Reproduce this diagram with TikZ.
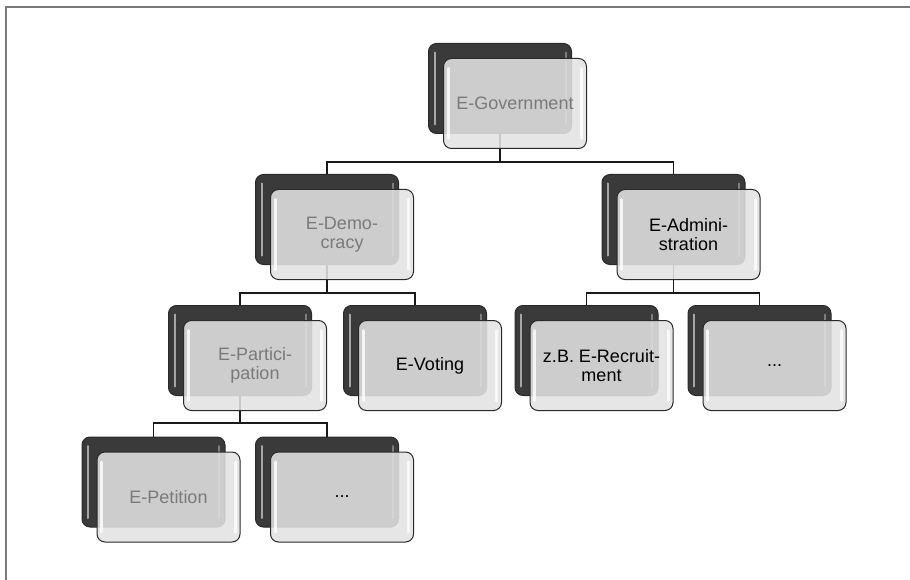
\documentclass[tikz,border=0pt]{standalone}
\usepackage{fontspec}
\setmainfont{Liberation Sans}
\usetikzlibrary{positioning}
\definecolor{boxdark}{HTML}{3A3A3A}
\definecolor{boxrim}{HTML}{2A2A2A}
\definecolor{boxlight}{HTML}{E2E2E2}
\definecolor{textgray}{HTML}{7A7A7A}
\definecolor{framegray}{HTML}{7A7A7A}

\tikzset{
  back/.style={draw=boxrim, fill=boxdark, line width=1pt, rounded corners=8pt,
    minimum width=143pt, minimum height=90pt, inner sep=0pt,
    path picture={
      \draw[white, opacity=0.55, line width=2pt, line cap=round]
        ([xshift=6pt,yshift=-9pt]path picture bounding box.north west) --
        ([xshift=6pt,yshift=9pt]path picture bounding box.south west);
      \draw[white, opacity=0.35, line width=2pt, line cap=round]
        ([xshift=-6pt,yshift=-9pt]path picture bounding box.north east) --
        ([xshift=-6pt,yshift=9pt]path picture bounding box.south east);}},
  front/.style={draw=boxrim, fill=boxlight, fill opacity=0.88, text opacity=1,
    line width=1pt, rounded corners=8pt,
    minimum width=143pt, minimum height=90pt, inner sep=0pt, align=center,
    font=\fontsize{18}{19}\selectfont,
    path picture={
      \draw[white, opacity=0.8, line width=3pt, line cap=round]
        ([xshift=4.5pt,yshift=-10pt]path picture bounding box.north west) --
        ([xshift=4.5pt,yshift=10pt]path picture bounding box.south west);
      \draw[white, opacity=0.8, line width=3pt, line cap=round]
        ([xshift=-5pt,yshift=-10pt]path picture bounding box.north east) --
        ([xshift=-5pt,yshift=10pt]path picture bounding box.south east);}},
  link/.style={draw=black!90, line width=1.9pt}
}

\begin{document}
\begin{tikzpicture}[x=1pt, y=-1pt]
\useasboundingbox (0,0) rectangle (910,580);
\draw[framegray, line width=1.5pt] (6,580) -- (6,7) -- (910,7);

% dark back boxes
\node[back] (gov-b) at (500,88.5) {};
\node[back] (dem-b) at (327,219.5) {};
\node[back] (adm-b) at (673.5,219.5) {};
\node[back] (par-b) at (240,350.5) {};
\node[back] (vot-b) at (415,350.5) {};
\node[back] (rec-b) at (586.5,350.5) {};
\node[back] (adx-b) at (759.5,350.5) {};
\node[back] (pet-b) at (153.5,482) {};
\node[back] (pax-b) at (327,482) {};

% connectors
\foreach \p/\c/\d in {gov/dem/28, gov/adm/28, dem/vot/28, dem/par/28,
    adm/rec/28, adm/adx/28, par/pet/27, par/pax/27}
  \draw[link] (\p-b.south) -- +(0,\d) -| (\c-b.north);

% light front boxes
\node[front, text=textgray] (gov) at ([xshift=15pt,yshift=-15pt]gov-b.center) {E-Government};
\node[front, text=textgray] (dem) at ([xshift=15pt,yshift=-15pt]dem-b.center) {E-Demo-\\cracy};
\node[front] (adm) at ([xshift=15pt,yshift=-15pt]adm-b.center) {E-Admini-\\stration};
\node[front, text=textgray] (par) at ([xshift=15pt,yshift=-15pt]par-b.center) {E-Partici-\\pation};
\node[front] (vot) at ([xshift=15pt,yshift=-15pt]vot-b.center) {E-Voting};
\node[front] (rec) at ([xshift=15pt,yshift=-15pt]rec-b.center) {z.B. E-Recruit-\\ment};
\node[front] (adx) at ([xshift=15pt,yshift=-15pt]adx-b.center) {...};
\node[front, text=textgray] (pet) at ([xshift=15pt,yshift=-15pt]pet-b.center) {E-Petition};
\node[front] (pax) at ([xshift=15pt,yshift=-15pt]pax-b.center) {...};
\end{tikzpicture}
\end{document}
